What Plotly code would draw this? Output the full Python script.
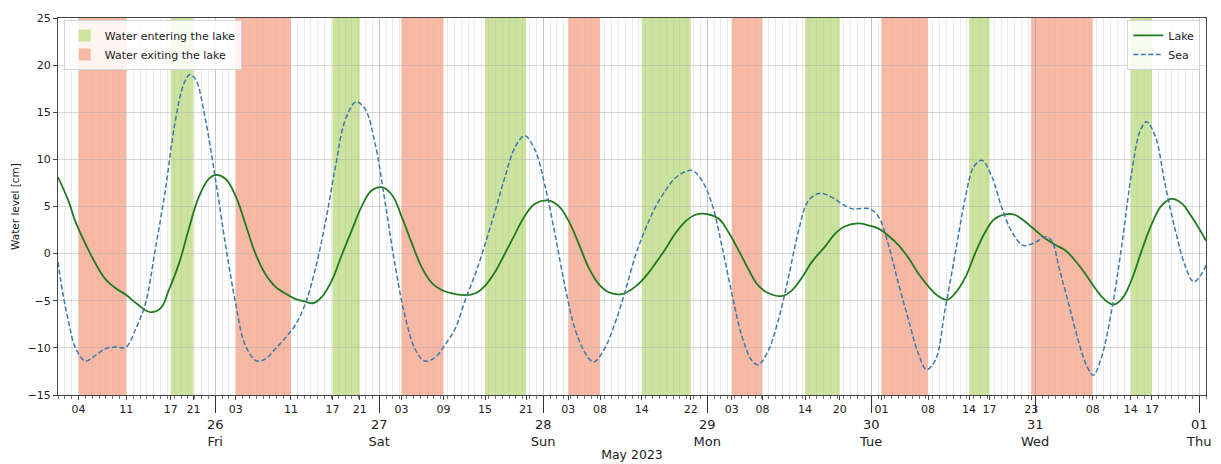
import pandas as pd
import plotly.graph_objects as go

BASE = pd.Timestamp("2023-05-25 00:00")

# ---- data (hours after 2023-05-25 00:00, water level in cm) ----
lake_hours = [1, 2.5, 3.5, 5, 6.5, 8, 9.5, 11, 12.5, 14.5, 16, 17.2, 18.7, 20.1, 21.6, 23.1, 24.1,
              25.5, 27, 28.4, 29.9, 31.3, 32.8, 34.2, 35.7, 37.2, 38.4, 39.6, 41.1, 42.5, 44, 45.5,
              46.9, 48.4, 49.9, 51.3, 52.8, 54.2, 55.7, 57.0, 58.5, 60.6, 62.1, 63.5, 65, 66.4, 67.9,
              69.4, 70.8, 72.6, 74.2, 75.7, 77.2, 78.6, 80.1, 81.6, 83.5, 85.5, 86.9, 88.4, 89.9,
              91.3, 92.8, 94.2, 96.0, 97.7, 99.1, 100.6, 102, 103.5, 105, 106.9, 108.4, 109.9, 111.3,
              113.3, 114.7, 116.2, 118.1, 119.6, 121.1, 122.5, 124, 125.5, 126.9, 128.4, 129.8, 131.1,
              132.3, 133.8, 135.2, 136.7, 138.1, 139.9, 141.1, 142.5, 144, 145.5, 146.9, 148.4, 149.8,
              151.3, 152.8, 154.2, 155.5, 156.7, 158.1, 159.6, 161.1, 162.5, 164, 165.5, 166.9, 169]
lake_level = [8.1, 5.65, 3.5, 1.06, -1.06, -2.76, -3.7, -4.4, -5.3, -6.2, -5.8, -3.9, -1.06, 2.5, 6.0, 7.95, 8.35,
              7.95, 6.1, 3.2, 0.0, -2.1, -3.5, -4.2, -4.8, -5.1, -5.25, -4.6, -2.8, -0.2, 2.5, 5.1,
              6.7, 7.05, 6.2, 3.9, 1.06, -1.4, -3.1, -3.8, -4.2, -4.4, -4.2, -3.4, -1.9, 0.0, 2.1,
              4.1, 5.3, 5.65, 5.1, 3.5, 1.06, -1.4, -3.2, -4.1, -4.3, -3.5, -2.5, -1.06, 0.5,
              2.1, 3.4, 4.1, 4.2, 3.7, 2.3, 0.35, -1.6, -3.4, -4.2, -4.5, -3.9, -2.5, -0.9,
              0.8, 2.1, 2.9, 3.2, 3.0, 2.65, 1.9, 0.9, -0.5, -2.1, -3.5, -4.5, -4.9,
              -4.2, -2.5, 0.0, 2.3, 3.7, 4.2, 4.1, 3.4, 2.5, 1.6, 0.95, 0.35, -0.7,
              -2.1, -3.7, -4.9, -5.4, -4.8, -2.8, 0.35, 3.2, 5.1, 5.8, 5.3, 3.9, 1.4]

sea_hours = [1, 1.8, 2.6, 3.5, 5, 6.5, 7.9, 9.4, 10.9, 12.3, 13.8, 15.2, 16.7, 18.1, 19.4, 20.3, 21.2,
             22.5, 24, 25.5, 27, 28.4, 30.1, 31.5, 32.8, 34.2, 35.7, 37.2, 38.6, 40.1, 41.6, 43, 44.6,
             45.9, 47.4, 48.9, 50.3, 51.8, 53.3, 54.7, 56.2, 57.7, 59.1, 60.6, 62.1, 63.5, 65, 66.4,
             67.9, 69.3, 70.8, 72.3, 73.8, 75.2, 76.7, 78.2, 79.4, 80.9, 82.5, 84, 85.5, 86.9, 88.4,
             89.9, 91.3, 92.8, 93.9, 95.2, 96.7, 98.1, 99.6, 101.1, 102.5, 103.5, 105, 106.4, 107.9,
             109.4, 110.8, 112.5, 114.2, 115.7, 117.2, 118.6, 119.8, 121.1, 122.5, 124, 125.5, 126.9,
             128.1, 129.4, 130.8, 132.3, 133.8, 135, 136.2, 137.7, 139.1, 140.6, 142.3, 144, 145.5,
             146.4, 147.6, 148.9, 150.3, 151.6, 152.5, 153.7, 155.2, 156.7, 158.1, 159.4, 160.3,
             161.6, 163, 164.5, 166, 167.2, 168.4, 169]
sea_level = [-0.9, -4.6, -7.4, -9.9, -11.4, -10.8, -10.1, -9.9, -9.95, -8.1, -5.3, 0.3, 6.7, 13.8, 18.0, 19.0, 18.4,
             14.5, 8.1, 1.0, -5.3, -9.7, -11.4, -11.1, -10.1, -9.0, -7.6, -5.3, -1.8, 3.2, 9.2, 14.1, 16.1,
             15.4, 11.7, 5.3, -1.1, -6.7, -10.2, -11.4, -11.0, -9.6, -8.0, -4.9, -2.1, 1.0, 4.6, 8.1,
             11.3, 12.5, 11.0, 7.1, 1.8, -3.5, -8.1, -10.6, -11.5, -10.2, -7.4, -4.0, -0.2, 2.5, 4.9,
             6.7, 8.0, 8.7, 8.8, 7.8, 5.3, 1.0, -4.2, -8.8, -11.3, -11.8, -10.2, -7.1, -2.5,
             2.5, 5.6, 6.4, 6.0, 5.3, 4.75, 4.8, 4.75, 3.9, 1.0, -3.2, -7.1, -10.6,
             -12.3, -11.3, -6.0, 0.0, 6.0, 9.2, 9.9, 8.1, 4.9, 2.3, 0.85, 1.2, 1.8,
             1.4, -1.8, -5.3, -9.2, -12.0, -12.9, -11.0, -6.0, 1.0, 8.5, 13.1, 14.0,
             12.4, 7.4, 2.5, -1.4, -3.0, -2.1, -1.2]

enter_start = ["2023-05-25 17:30", "2023-05-26 17:10", "2023-05-27 15:30", "2023-05-28 14:25",
               "2023-05-29 14:20", "2023-05-30 14:20", "2023-05-31 14:00"]
enter_end = ["2023-05-25 20:50", "2023-05-26 21:10", "2023-05-27 21:30", "2023-05-28 21:35",
             "2023-05-29 19:25", "2023-05-30 17:20", "2023-05-31 17:05"]
exit_start = ["2023-05-25 04:00", "2023-05-26 03:00", "2023-05-27 03:15", "2023-05-28 03:40",
              "2023-05-29 03:35", "2023-05-30 01:30", "2023-05-30 23:25"]
exit_end = ["2023-05-25 11:00", "2023-05-26 11:05", "2023-05-27 09:25", "2023-05-28 08:20",
            "2023-05-29 08:05", "2023-05-30 08:20", "2023-05-31 08:25"]

hour_labels = ["04", "11", "17", "21", "03", "11", "17", "21", "03", "09", "15", "21", "03", "08",
               "14", "22", "03", "08", "14", "20", "01", "08", "14", "17", "23", "08", "14", "17"]
day_ticks = ["2023-05-26", "2023-05-27", "2023-05-28", "2023-05-29", "2023-05-30", "2023-05-31", "2023-06-01"]
day_labels = ["26<br>Fri", "27<br>Sat", "28<br>Sun", "29<br>Mon", "30<br>Tue", "31<br>Wed", "01<br>Thu"]
x_range = ["2023-05-25 01:00", "2023-06-01 01:00"]

# ---- styles ----
FONT = "DejaVu Sans"
GREEN_SPAN = "#cbe39c"
RED_SPAN = "#f9b8a3"
LAKE_C = "#207a20"
SEA_C = "#3b7aae"
AX_C = "#444444"

lake_t = [BASE + pd.Timedelta(hours=h) for h in lake_hours]
sea_t = [BASE + pd.Timedelta(hours=h) for h in sea_hours]

fig = go.Figure()

for i, (s, e) in enumerate(zip(enter_start, enter_end)):
    fig.add_shape(type="rect", xref="x", yref="y domain", x0=s, x1=e, y0=0, y1=1,
                  fillcolor=GREEN_SPAN, line_width=0, layer="below",
                  showlegend=(i == 0), name="Water entering the lake", legend="legend",
                  legendrank=1)
for i, (s, e) in enumerate(zip(exit_start, exit_end)):
    fig.add_shape(type="rect", xref="x", yref="y domain", x0=s, x1=e, y0=0, y1=1,
                  fillcolor=RED_SPAN, line_width=0, layer="below",
                  showlegend=(i == 0), name="Water exiting the lake", legend="legend",
                  legendrank=2)

fig.add_trace(go.Scatter(x=lake_t, y=lake_level, mode="lines", name="Lake", legend="legend2",
                         line=dict(color=LAKE_C, width=1.8, shape="spline", smoothing=1.2)))
fig.add_trace(go.Scatter(x=sea_t, y=sea_level, mode="lines", name="Sea", legend="legend2",
                         line=dict(color=SEA_C, width=1.5, dash="5px,2.5px", shape="spline", smoothing=1.0)))
# carrier for the day axis
fig.add_trace(go.Scatter(x=day_ticks, y=[None] * len(day_ticks), xaxis="x2", mode="lines",
                         showlegend=False, hoverinfo="skip"))

edges = sorted(pd.to_datetime(enter_start + enter_end + exit_start + exit_end))

fig.update_layout(
    width=1221, height=464,
    margin=dict(l=58, r=15, t=18, b=69),
    paper_bgcolor="white", plot_bgcolor="white",
    font=dict(family=FONT, size=11, color="#222222"),
    xaxis=dict(type="date", range=x_range, tickmode="array", tickvals=edges, ticktext=hour_labels,
               ticks="outside", ticklen=4, tickcolor=AX_C, tickfont=dict(size=11),
               showgrid=False, zeroline=False, showline=True, linecolor=AX_C, linewidth=1, mirror=True,
               automargin=False,
               minor=dict(dtick=3600000, tick0="2023-05-25 00:00", ticks="outside", ticklen=2.5,
                          tickcolor="#777777", showgrid=True, gridcolor="rgba(190,190,190,0.3)",
                          gridwidth=1)),
    xaxis2=dict(type="date", range=x_range, overlaying="x", anchor="y", side="bottom",
                tickmode="array", tickvals=day_ticks, ticktext=day_labels,
                ticks="outside", ticklen=17, tickwidth=1.3, tickcolor="#333333",
                tickfont=dict(size=13), showgrid=True, gridcolor="rgba(160,160,160,0.5)", gridwidth=1,
                showline=False, zeroline=False, automargin=False,
                title=dict(text="May 2023", font=dict(size=12.5), standoff=2)),
    yaxis=dict(range=[-15, 25], dtick=5, tick0=0, ticks="outside", ticklen=4, tickcolor=AX_C,
               tickfont=dict(size=11), showgrid=True, gridcolor="rgba(170,170,170,0.45)", gridwidth=1,
               zeroline=False, showline=True, linecolor=AX_C, linewidth=1, mirror=True,
               automargin=False,
               title=dict(text="Water level [cm]", font=dict(size=10.5), standoff=5)),
    legend=dict(x=0.005, y=0.995, xanchor="left", yanchor="top", bgcolor="rgba(255,255,255,0.85)",
                bordercolor="#d5d5d5", borderwidth=1, font=dict(size=11), tracegroupgap=0),
    legend2=dict(x=0.995, y=0.995, xanchor="right", yanchor="top", bgcolor="rgba(255,255,255,0.85)",
                 bordercolor="#d5d5d5", borderwidth=1, font=dict(size=11), tracegroupgap=0),
    showlegend=True,
)

fig.write_html("out.html", config={"displayModeBar": False},
               post_script="document.body.style.margin='0px';document.body.style.overflow='hidden';")
